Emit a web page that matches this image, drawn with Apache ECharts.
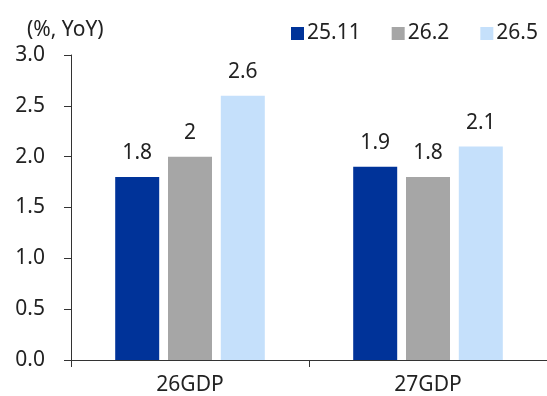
<!DOCTYPE html>
<html>
<head>
<meta charset="utf-8">
<script src="https://cdn.jsdelivr.net/npm/echarts@6/dist/echarts.min.js"></script>
<style>
  html, body { margin: 0; padding: 0; background: #fff; }
  #chart { width: 547px; height: 396px; }
</style>
</head>
<body>
<div id="chart"></div>
<script>
// GDP growth forecasts by release vintage
const categories = ['26GDP', '27GDP'];
const seriesNames = ['25.11', '26.2', '26.5'];
const forecast2511 = [1.8, 1.9];
const forecast262 = [2, 1.8];
const forecast265 = [2.6, 2.1];
const yTicks = [0, 0.5, 1.0, 1.5, 2.0, 2.5, 3.0];

const colors = ['#003399', '#a6a6a6', '#c5e0fb'];
const font = 'Noto Sans';
const fs = 21;

const chart = echarts.init(document.getElementById('chart'));

function barSeries(name, data, color) {
  return {
    name: name,
    type: 'bar',
    data: data,
    barWidth: 44,
    barGap: '20%',
    itemStyle: { color: color },
    label: {
      show: true,
      position: 'top',
      distance: 13,
      color: '#222',
      fontFamily: font,
      fontSize: fs,
      formatter: p => String(p.value)
    }
  };
}

chart.setOption({
  animation: false,
  textStyle: { fontFamily: font },
  grid: { left: 71, right: -3, top: 55, bottom: 36, containLabel: false },
  legend: {
    data: seriesNames,
    right: 4,
    top: 18,
    itemWidth: 13,
    itemHeight: 13,
    itemGap: 31,
    icon: 'rect',
    textStyle: { fontFamily: font, fontSize: fs, color: '#222', padding: [0, 0, 0, -2] }
  },
  graphic: [{
    type: 'text',
    left: 27,
    top: 20,
    style: { text: '(%, YoY)', fontFamily: font, fontSize: fs, fill: '#222' }
  }],
  xAxis: {
    type: 'category',
    data: categories,
    axisLine: { lineStyle: { color: '#333', width: 1 } },
    axisTick: { show: true, length: 7, lineStyle: { color: '#333' } },
    axisLabel: { color: '#222', fontFamily: font, fontSize: fs, margin: 15 }
  },
  yAxis: {
    type: 'value',
    min: yTicks[0],
    max: yTicks[yTicks.length - 1],
    interval: 0.5,
    splitLine: { show: false },
    axisLine: { show: true, lineStyle: { color: '#333', width: 1 } },
    axisTick: { show: true, length: 7, lineStyle: { color: '#333' } },
    axisLabel: {
      color: '#222', fontFamily: font, fontSize: fs, margin: 26,
      formatter: v => v.toFixed(1)
    }
  },
  series: [
    barSeries(seriesNames[0], forecast2511, colors[0]),
    barSeries(seriesNames[1], forecast262, colors[1]),
    barSeries(seriesNames[2], forecast265, colors[2])
  ]
});
</script>
</body>
</html>
